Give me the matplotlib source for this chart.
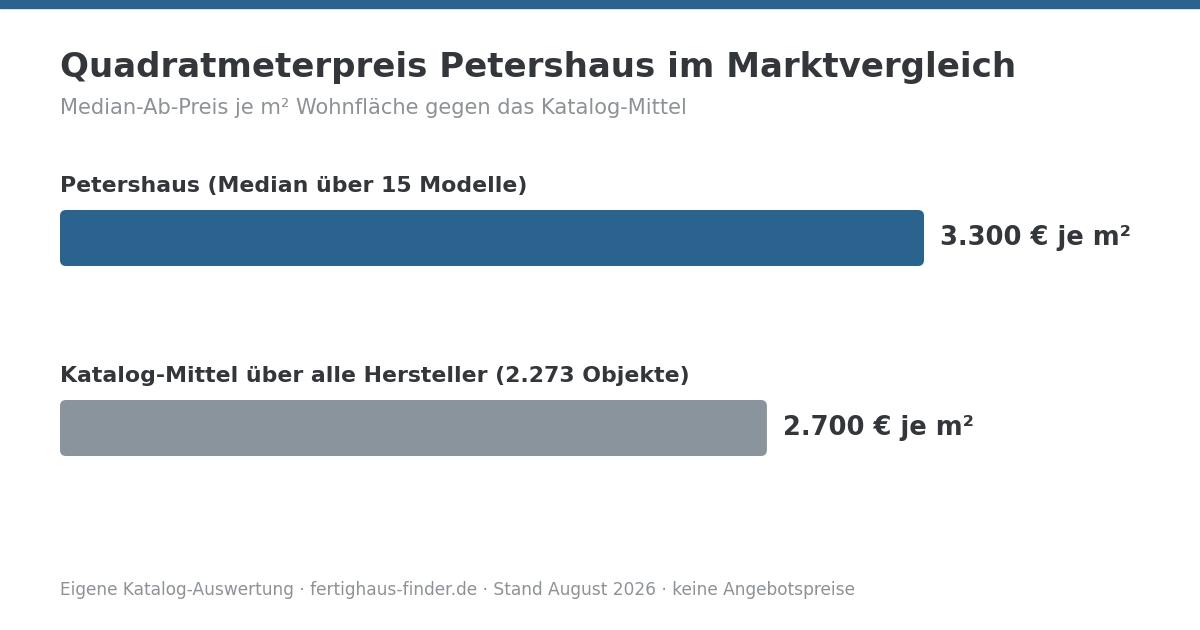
import matplotlib
matplotlib.use("Agg")
import matplotlib.pyplot as plt
from matplotlib.patches import FancyBboxPatch, Rectangle

# data
labels = ["Petershaus (Median über 15 Modelle)",
          "Katalog-Mittel über alle Hersteller (2.273 Objekte)"]
values = [3300, 2700]
value_labels = ["3.300 € je m²", "2.700 € je m²"]
colors = ["#2a638e", "#8a949c"]

title = "Quadratmeterpreis Petershaus im Marktvergleich"
subtitle = "Median-Ab-Preis je m² Wohnfläche gegen das Katalog-Mittel"
footer = "Eigene Katalog-Auswertung · fertighaus-finder.de · Stand August 2026 · keine Angebotspreise"

W, H = 1200, 630
dark = "#33373b"
grey = "#8c9297"

plt.rcParams['font.family'] = ['DejaVu Sans']
fig = plt.figure(figsize=(W / 100, H / 100), dpi=100)
fig.patch.set_facecolor("white")

# top accent strip
fig.patches.append(Rectangle((0, 1 - 8 / H), 1, 8 / H, transform=fig.transFigure,
                             color="#2a638e", zorder=0))

fig.text(60 / W, 1 - 67 / H, title, fontsize=24.45, fontweight="bold", color=dark, va="center")
fig.text(60 / W, 1 - 108 / H, subtitle, fontsize=15.1, color=grey, va="center")
fig.text(60 / W, 1 - 590 / H, footer, fontsize=12.25, color=grey, va="center")

# bar axes: x in euro, y in pixels from top
ax = fig.add_axes([60 / W, 0, 864 / W, 1])
ax.set_xlim(0, max(values))
ax.set_ylim(H, 0)
ax.axis("off")

px_per_x = 864 / max(values)
bar_h = 56
radius = 6
centers = [238, 428]
for lab, val, vlab, col, yc in zip(labels, values, value_labels, colors, centers):
    r = radius / px_per_x
    box = FancyBboxPatch((0, yc - bar_h / 2), val, bar_h,
                         boxstyle="round,pad=0,rounding_size=%f" % r,
                         mutation_aspect=px_per_x,
                         facecolor=col, edgecolor="none")
    ax.add_patch(box)
    ax.text(0, yc - 52, lab, fontsize=15.8, fontweight="bold", color=dark,
            va="center", ha="left", clip_on=False)
    ax.text(val + 16 / px_per_x, yc, vlab, fontsize=18.5, fontweight="bold", color=dark,
            va="center", ha="left", clip_on=False)

fig.savefig("out.png", dpi=100, facecolor="white")
